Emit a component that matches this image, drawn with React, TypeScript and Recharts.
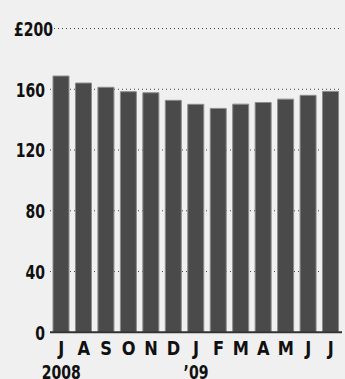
import React from "react";
import { BarChart, Bar, XAxis, YAxis, CartesianGrid } from "recharts";

// Monthly values, July 2008 – July 2009
const months = ["J", "A", "S", "O", "N", "D", "J", "F", "M", "A", "M", "J", "J"];
const years = ["2008", "", "", "", "", "", "\u201909", "", "", "", "", "", ""];
const values = [168.7, 164.1, 161.3, 158.4, 157.7, 152.7, 150.1, 147.4, 150.2, 151.3, 153.5, 156.0, 158.6];
const yTicks = [0, 40, 80, 120, 160, 200];

const data = months.map((m, i) => ({ key: String(i), month: m, year: years[i], value: values[i] }));

const FONT = "'DejaVu Sans Condensed', 'DejaVu Sans', sans-serif";

// Bold label, optionally compressed horizontally around its anchor point
const Label = ({ x, y, anchor, size, squeeze = 0.78, children }: any) => (
  <text
    transform={`translate(${x},${y}) scale(${squeeze},1)`}
    x={0}
    y={0}
    textAnchor={anchor}
    fontFamily={FONT}
    fontWeight="bold"
    fontSize={size}
    fill="#111"
  >
    {children}
  </text>
);

const YTick = (props: any) => {
  const { y, payload } = props;
  const v = payload.value;
  const label = v === 200 ? "\u00a3200" : String(v);
  return (
    <Label x={v === 200 ? 53 : 45} y={y + 7.3} anchor="end" size={20}>
      {label}
    </Label>
  );
};

const XTick = (props: any) => {
  const { x, index } = props;
  const d = data[index];
  if (!d) return null;
  return (
    <g>
      <Label x={x} y={355} anchor="middle" size={19} squeeze={0.95}>
        {d.month}
      </Label>
      {d.year ? (
        <Label x={x} y={378.5} anchor="middle" size={20}>
          {d.year}
        </Label>
      ) : null}
    </g>
  );
};

export default function App() {
  return (
    <div style={{ position: "absolute", left: 0, top: 0, width: 345, height: 379, background: "#f0f0f0" }}>
      <BarChart
        width={345}
        height={379}
        data={data}
        margin={{ top: 28.5, right: 3, bottom: 0, left: 0 }}
      >
        <CartesianGrid vertical={false} stroke="#444" strokeDasharray="1 3" />
        <XAxis
          dataKey="key"
          height={46.7}
          axisLine={{ stroke: "#333", strokeWidth: 2 }}
          tickLine={false}
          interval={0}
          tick={<XTick />}
        />
        <YAxis
          width={50}
          domain={[0, 200]}
          ticks={yTicks}
          axisLine={false}
          tickLine={false}
          tick={<YTick />}
        />
        <Bar dataKey="value" fill="#4a4a4a" stroke="#8c8c8c" strokeWidth={1} barSize={16} isAnimationActive={false} />
      </BarChart>
    </div>
  );
}
